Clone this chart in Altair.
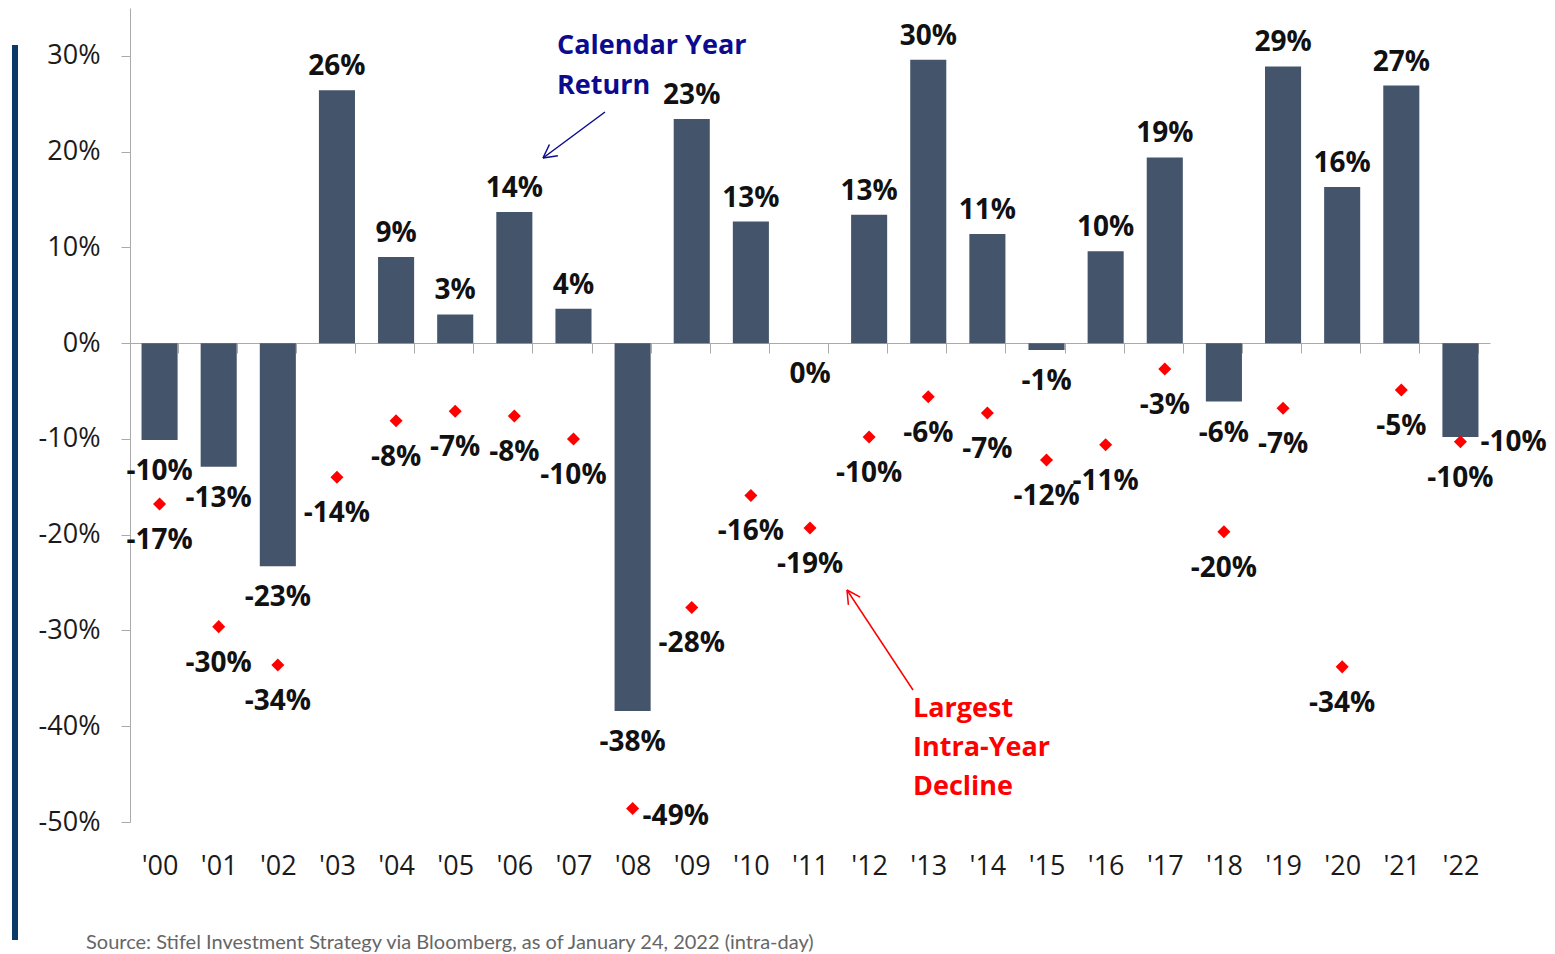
import math
import altair as alt
import pandas as pd

years = ["'00", "'01", "'02", "'03", "'04", "'05", "'06", "'07", "'08", "'09", "'10", "'11",
         "'12", "'13", "'14", "'15", "'16", "'17", "'18", "'19", "'20", "'21", "'22"]
calendar_return = [-10.1, -12.9, -23.3, 26.4, 9.0, 3.0, 13.7, 3.6, -38.4, 23.4, 12.7, 0.0,
                   13.4, 29.6, 11.4, -0.7, 9.6, 19.4, -6.1, 28.9, 16.3, 26.9, -9.8]
intra_year_decline = [-16.8, -29.6, -33.6, -14.0, -8.1, -7.1, -7.6, -10.0, -48.6, -27.6, -15.9, -19.3,
                      -9.8, -5.6, -7.3, -12.2, -10.6, -2.7, -19.7, -6.8, -33.8, -4.9, -10.3]
y_ticks = [-50, -40, -30, -20, -10, 0, 10, 20, 30]

df = pd.DataFrame({"year": years, "ret": calendar_return, "dec": intra_year_decline})

W, H = 1360, 814
Y_DOMAIN = [-50, 35]
ZERO_FROM_BOTTOM = H * (0 - Y_DOMAIN[0]) / (Y_DOMAIN[1] - Y_DOMAIN[0])

BAR = "#44546A"
RED = "#FF0000"
BLUE = "#0b0b8f"
LBL_FONT = "Open Sans"
LBL_SIZE = 28
AX = "#aaaaaa"

X_AXIS = alt.Axis(title=None, labelAngle=0, tickBand="extent",
                  offset=-round(ZERO_FROM_BOTTOM),
                  domainColor=AX, tickColor=AX, tickSize=10,
                  labelPadding=500, labelFont=LBL_FONT, labelFontSize=27,
                  labelColor="#1a1a1a", labelOverlap=False)
Y_AXIS = alt.Axis(title=None, values=y_ticks, labelExpr="datum.value + '%'",
                  grid=False, domainColor=AX, tickColor=AX, tickSize=9,
                  labelPadding=21, labelFont=LBL_FONT, labelFontSize=27,
                  labelColor="#1a1a1a")
XSCALE = alt.Scale(paddingInner=0.39, paddingOuter=0.195)
YSCALE = alt.Scale(domain=Y_DOMAIN, nice=False, zero=False)


def X():
    return alt.X("year:N", sort=years, scale=XSCALE, axis=X_AXIS)


def Y(field):
    return alt.Y(field + ":Q", scale=YSCALE, axis=Y_AXIS)


base = alt.Chart(df)

bars = base.mark_bar(color=BAR).encode(x=X(), y=Y("ret"))

text_kw = dict(font=LBL_FONT, fontSize=LBL_SIZE, fontWeight="bold", color="#111111",
               baseline="alphabetic")

ret_txt = "toString(round(datum.ret)) + '%'"
dec_txt = "toString(round(datum.dec)) + '%'"

pos_lbl = base.transform_filter("datum.ret > 0").transform_calculate(t=ret_txt).mark_text(
    dy=-15, **text_kw).encode(x=X(), y=Y("ret"), text="t:N")
neg_lbl = base.transform_filter("datum.ret <= 0 && datum.year != \"'22\"").transform_calculate(
    t=ret_txt).mark_text(dy=40, **text_kw).encode(x=X(), y=Y("ret"), text="t:N")
side_lbl = base.transform_filter("datum.year == \"'22\"").transform_calculate(
    t=ret_txt).mark_text(dy=14, dx=20, align="left", **text_kw).encode(
    x=X(), y=Y("ret"), text="t:N")

points = base.mark_point(shape="diamond", filled=True, color=RED, size=170, opacity=1).encode(
    x=X(), y=Y("dec"))
dec_lbl = base.transform_filter("datum.year != \"'08\"").transform_calculate(
    t=dec_txt).mark_text(dy=45, **text_kw).encode(x=X(), y=Y("dec"), text="t:N")
dec_side = base.transform_filter("datum.year == \"'08\"").transform_calculate(
    t=dec_txt).mark_text(dy=16, dx=10, align="left", **text_kw).encode(
    x=X(), y=Y("dec"), text="t:N")

one = alt.Data(values=[{}])


def label(txt, x, y, color, size=27, weight="bold", font=LBL_FONT):
    return alt.Chart(one).mark_text(text=txt, align="left", baseline="middle", font=font,
                                    fontSize=size, fontWeight=weight, color=color).encode(
        x=alt.value(x), y=alt.value(y))


def arrow(x1, y1, x2, y2, color):
    layers = [alt.Chart(one).mark_rule(color=color, strokeWidth=1.5).encode(
        x=alt.value(x1), y=alt.value(y1), x2=alt.value(x2), y2=alt.value(y2))]
    ang = math.atan2(y1 - y2, x1 - x2)
    for s in (-1, 1):
        a = ang + s * math.radians(28)
        layers.append(alt.Chart(one).mark_rule(color=color, strokeWidth=1.5).encode(
            x=alt.value(x2), y=alt.value(y2),
            x2=alt.value(x2 + 15 * math.cos(a)), y2=alt.value(y2 + 15 * math.sin(a))))
    return layers


ann = [
    label("Calendar Year", 427, 38, BLUE),
    label("Return", 427, 78, BLUE),
    label("Largest", 783, 701, RED),
    label("Intra-Year", 783, 740, RED),
    label("Decline", 783, 779, RED),
    alt.Chart(one).mark_rule(color="#0c3a66", strokeWidth=6).encode(
        x=alt.value(-115), y=alt.value(37), y2=alt.value(932)),
    label("Source: Stifel Investment Strategy via Bloomberg, as of January 24, 2022 (intra-day)",
          -44, 935, "#666666", size=20, weight="normal", font="Lato"),
]
ann += arrow(475, 104, 413, 150, BLUE)
ann += arrow(783, 682, 717, 582, RED)

chart = alt.layer(bars, pos_lbl, neg_lbl, side_lbl, points, dec_lbl, dec_side, *ann).properties(
    width=W, height=H,
    autosize=alt.AutoSizeParams(type="none"),
    padding={"left": 122, "top": 0, "right": 57, "bottom": 134},
).configure_view(stroke=None)

chart.save("out.html", embed_options={"renderer": "svg", "actions": False})
